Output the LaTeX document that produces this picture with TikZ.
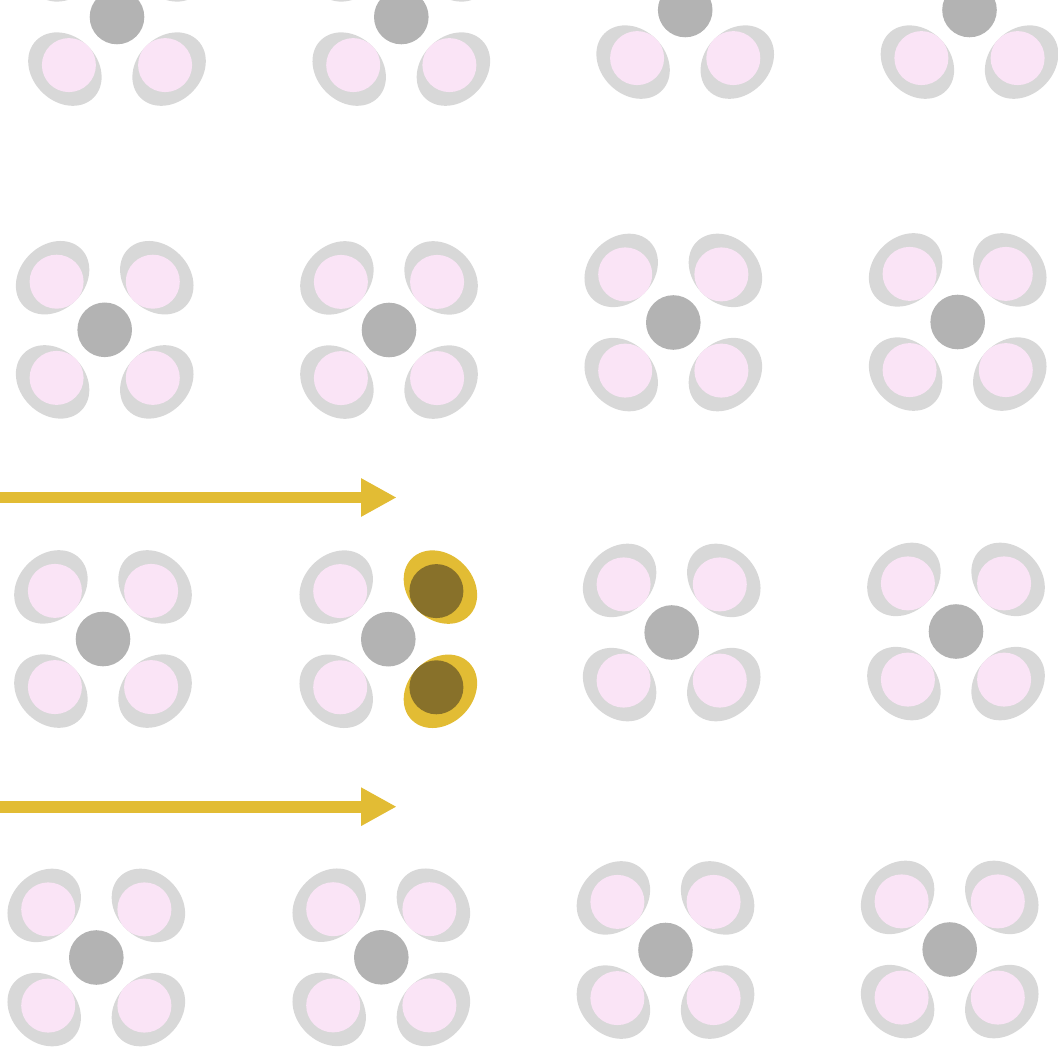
\documentclass[tikz,border=0pt]{standalone}
\usetikzlibrary{shapes.geometric,arrows.meta}
\definecolor{petalgray}{RGB}{216,216,216}
\definecolor{pinkfill}{RGB}{250,228,246}
\definecolor{hubgray}{RGB}{179,179,179}
\definecolor{goldc}{RGB}{226,188,52}
\definecolor{olivec}{RGB}{136,113,42}
\tikzset{
  petal/.style={ellipse, draw=none, minimum width=65pt, minimum height=81pt, inner sep=0pt},
  bud/.style={circle, draw=none, minimum size=54pt, inner sep=0pt},
  hub/.style={circle, draw=none, fill=hubgray, minimum size=54.6pt, inner sep=0pt},
  flow/.style={draw=goldc, line width=11.6pt, -{Triangle[length=35.7pt,width=36pt]}}
}
\begin{document}
\begin{tikzpicture}[x=1pt,y=-1pt]
\useasboundingbox (0,0) rectangle (1058,1048);
\foreach \n/\cx/\cy/\rp/\rb in {
  a1/117/17/petalgray/pinkfill, b1/401.3/17/petalgray/pinkfill, c1/685.2/10/petalgray/pinkfill, d1/969.5/10/petalgray/pinkfill,
  a2/104.7/329.8/petalgray/pinkfill, b2/389/330/petalgray/pinkfill, c2/673.3/322.5/petalgray/pinkfill, d2/957.7/322/petalgray/pinkfill,
  a3/103/639/petalgray/pinkfill, b3/388.3/639.2/goldc/olivec, c3/671.7/632.5/petalgray/pinkfill, d3/956/631.5/petalgray/pinkfill,
  a4/96.3/957.5/petalgray/pinkfill, b4/381.3/957.3/petalgray/pinkfill, c4/665.5/950/petalgray/pinkfill, d4/949.7/949.5/petalgray/pinkfill}{
  \node[petal, fill=petalgray, rotate=135] (\n-eul) at (\cx-52.1,\cy-52.1) {};
  \node[petal, fill=\rp, rotate=45] (\n-eur) at (\cx+52.1,\cy-52.1) {};
  \node[petal, fill=petalgray, rotate=45] (\n-edl) at (\cx-52.1,\cy+52.1) {};
  \node[petal, fill=\rp, rotate=135] (\n-edr) at (\cx+52.1,\cy+52.1) {};
  \node[bud, fill=pinkfill] (\n-pul) at (\cx-48.1,\cy-48.1) {};
  \node[bud, fill=\rb] (\n-pur) at (\cx+48.1,\cy-48.1) {};
  \node[bud, fill=pinkfill] (\n-pdl) at (\cx-48.1,\cy+48.1) {};
  \node[bud, fill=\rb] (\n-pdr) at (\cx+48.1,\cy+48.1) {};
  \node[hub] (\n) at (\cx,\cy) {};
}
\coordinate (s1) at (0,497.5);
\coordinate (e1) at (396.7,497.5);
\coordinate (s2) at (0,806.7);
\coordinate (e2) at (396.7,806.7);
\draw[flow] (s1) -- (e1);
\draw[flow] (s2) -- (e2);
\end{tikzpicture}
\end{document}
